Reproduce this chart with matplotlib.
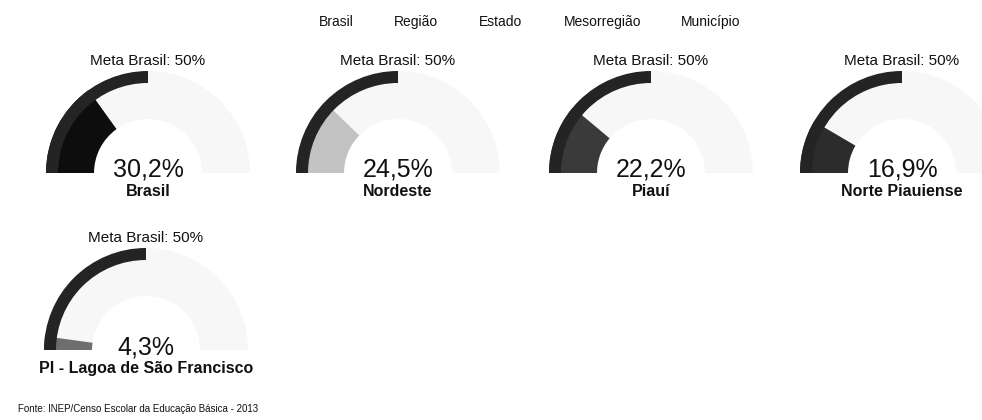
import matplotlib
matplotlib.use("Agg")
import matplotlib.pyplot as plt
from matplotlib.patches import Wedge

# ---- data ----
regions = ["Brasil", "Nordeste", "Piauí", "Norte Piauiense", "PI - Lagoa de São Francisco"]
values = [30.2, 24.5, 22.2, 16.9, 4.3]
meta_value = 50
meta_label = "Meta Brasil: 50%"
nav_items = ["Brasil", "Região", "Estado", "Mesorregião", "Município"]
source = "Fonte: INEP/Censo Escolar da Educação Básica - 2013"

# ---- style / layout ----
W, H = 982, 420
fill_colors = ["#0d0d0d", "#c2c2c2", "#3a3a3a", "#2c2c2c", "#6e6e6e"]
meta_color = "#242424"
bg_color = "#f7f7f7"
centers = [(148, 173), (398, 173), (651, 173), (902, 173), (146, 350)]
R_OUT, R_IN, META_W = 102, 54, 12
nav_x = [336, 416, 501, 603, 711]

plt.rcParams['font.family'] = ['Liberation Sans', 'DejaVu Sans']
fig = plt.figure(figsize=(W / 100, H / 100), dpi=100)
ax = fig.add_axes([0, 0, 1, 1])
ax.set_xlim(0, W)
ax.set_ylim(0, H)
ax.axis("off")


def Y(y):
    return H - y


for (cx, cy), val, col, name in zip(centers, values, fill_colors, regions):
    c = (cx, Y(cy))
    # background gauge
    ax.add_patch(Wedge(c, R_OUT, 0, 180, width=R_OUT - R_IN, facecolor=bg_color, edgecolor="none"))
    # value wedge
    ang = 180 - val / 100 * 180
    ax.add_patch(Wedge(c, R_OUT, ang, 180, width=R_OUT - R_IN, facecolor=col, edgecolor="none"))
    # meta arc
    mang = 180 - meta_value / 100 * 180
    ax.add_patch(Wedge(c, R_OUT, mang, 180, width=META_W, facecolor=meta_color, edgecolor="none"))
    # texts
    ax.text(cx, Y(cy - 112), meta_label, ha="center", va="center", fontsize=11, color="#111")
    txt = f"{val:.1f}%".replace(".", ",")
    ax.text(cx, Y(cy + 4), txt, ha="center", va="baseline", fontsize=18, color="#111")
    ax.text(cx, Y(cy + 19), name, ha="center", va="center", fontsize=11.5,
            fontweight="bold", color="#111")

for x, t in zip(nav_x, nav_items):
    ax.text(x, Y(22), t, ha="center", va="center", fontsize=10, color="#111")

ax.text(18, Y(409), source, ha="left", va="center", fontsize=7, color="#111")

fig.savefig("out.png", dpi=100, facecolor="white")
